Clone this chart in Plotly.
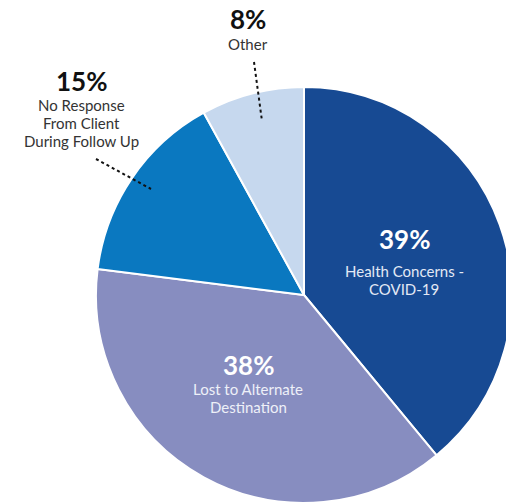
import plotly.graph_objects as go

# Reasons for cancellation, clockwise from 12 o'clock
categories = ["Health Concerns -<br>COVID-19", "Lost to Alternate<br>Destination",
              "No Response<br>From Client<br>During Follow Up", "Other"]
values = [39, 38, 15, 8]
colors = ["#174a93", "#878dc0", "#0a78c0", "#c6d8ee"]

W, H = 520, 512
CX, CY, R = 304, 295, 208


def px(x):
    return x / W


def py(y):
    return 1 - y / H


fig = go.Figure(go.Pie(
    labels=categories,
    values=values,
    sort=False,
    direction="clockwise",
    rotation=0,
    marker=dict(colors=colors, line=dict(color="white", width=2)),
    textinfo="none",
    hoverinfo="label+percent",
    domain=dict(x=[px(CX - R), px(CX + R)], y=[py(CY + R), py(CY - R)]),
    showlegend=False,
))

FONT = "Lato"
LINE_STEP = 18
# (centre x, percent y, first description line y, percent colour, description colour)
label_pos = [
    (404, 239, 271, "white", "#e3e9f5"),
    (248, 364.5, 389, "white", "#eef0f8"),
    (81, 80.5, 105, "#111111", "#333333"),
    (248, 19, 43.5, "#111111", "#333333"),
]

annotations = []
for cat, val, (x, yp, yd, c1, c2) in zip(categories, values, label_pos):
    annotations.append(dict(
        x=px(x), y=py(yp), xref="paper", yref="paper", showarrow=False,
        text=f"<b>{val}%</b>", font=dict(family=FONT, size=26, color=c1),
        xanchor="center", yanchor="middle", borderpad=0, borderwidth=0))
    for i, line in enumerate(cat.split("<br>")):
        annotations.append(dict(
            x=px(x), y=py(yd + i * LINE_STEP), xref="paper", yref="paper",
            showarrow=False, text=line,
            font=dict(family=FONT, size=15, color=c2),
            xanchor="center", yanchor="middle", borderpad=0, borderwidth=0))

# Dotted leader lines for the small slices
leaders = [((96, 159), (151, 189)), ((254, 62), (262, 121))]
shapes = [dict(type="line", xref="paper", yref="paper",
               x0=px(a[0]), y0=py(a[1]), x1=px(b[0]), y1=py(b[1]),
               line=dict(color="#111111", width=2, dash="dot"))
          for a, b in leaders]

fig.update_layout(
    width=W, height=H,
    margin=dict(l=0, r=0, t=0, b=0),
    paper_bgcolor="white",
    annotations=annotations,
    shapes=shapes,
)

fig.write_html("out.html", config={"displayModeBar": False},
               post_script="document.body.style.overflow='hidden';document.body.style.margin='0';")
